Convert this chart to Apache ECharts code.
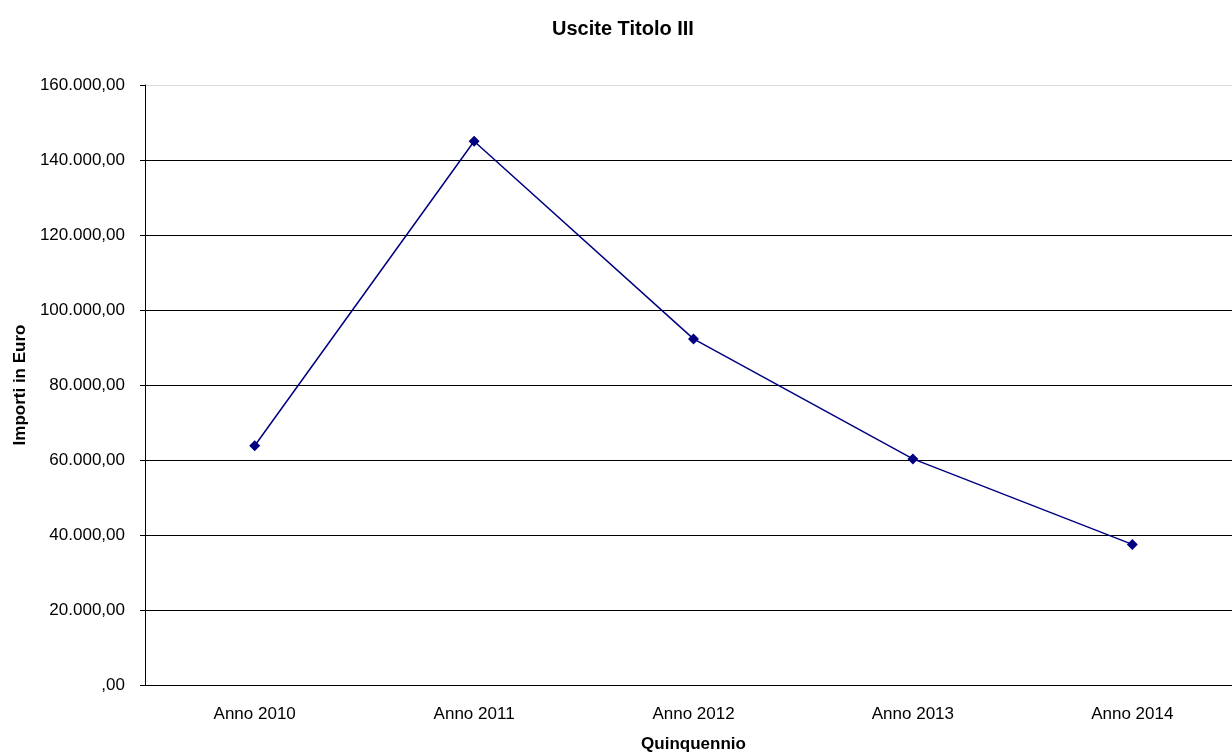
<!DOCTYPE html>
<html>
<head>
<meta charset="utf-8">
<script src="https://cdn.jsdelivr.net/npm/echarts@6/dist/echarts.min.js"></script>
<style>
  html, body { margin: 0; padding: 0; background: #fff; }
  #chart { width: 1232px; height: 753px; }
</style>
</head>
<body>
<div id="chart"></div>
<script>
// dati del grafico
var anni = ['Anno 2010', 'Anno 2011', 'Anno 2012', 'Anno 2013', 'Anno 2014'];
var uscite = [63800, 145000, 92300, 60300, 37500];
var yMin = 0, yMax = 160000, yStep = 20000;

var font = '"Liberation Sans", Arial, sans-serif';

// 160000 -> "160.000,00", 0 -> ",00"
function formatEuro(v) {
    if (v === 0) return ',00';
    return String(v).replace(/\B(?=(\d{3})+(?!\d))/g, '.') + ',00';
}

var myChart = echarts.init(document.getElementById('chart'));
var gridColors = ['#000', '#000', '#000', '#000', '#000', '#000', '#000', '#000', '#dcdcdc'];

var option = {
    animation: false,
    backgroundColor: '#fff',
    title: {
        text: 'Uscite Titolo III',
        left: 547,
        top: 14,
        textStyle: { fontFamily: font, fontSize: 20, fontWeight: 'bold', color: '#000' }
    },
    grid: { left: 145, top: 85, width: 1097, height: 600, outerBoundsMode: 'none', containLabel: false },
    xAxis: {
        type: 'category',
        data: anni,
        name: 'Quinquennio',
        nameLocation: 'middle',
        nameGap: 51,
        nameTextStyle: { fontFamily: font, fontSize: 17, fontWeight: 'bold', color: '#000' },
        axisLine: { lineStyle: { color: '#000', width: 1 } },
        axisTick: { length: 5, lineStyle: { color: '#000' } },
        axisLabel: { margin: 21, fontFamily: font, fontSize: 17, color: '#000' }
    },
    yAxis: {
        type: 'value',
        min: yMin,
        max: yMax,
        interval: yStep,
        name: 'Importi in Euro',
        nameLocation: 'middle',
        nameGap: 114,
        nameTextStyle: { fontFamily: font, fontSize: 17, fontWeight: 'bold', color: '#000' },
        axisLine: { show: true, lineStyle: { color: '#000', width: 1 } },
        axisTick: { show: true, length: 5, lineStyle: { color: '#000' } },
        axisLabel: { margin: 20, fontFamily: font, fontSize: 17, color: '#000', formatter: formatEuro },
        splitLine: { show: true, lineStyle: { color: gridColors, width: 1 } }
    },
    series: [{
        type: 'line',
        data: uscite,
        symbol: 'diamond',
        symbolSize: 11,
        lineStyle: { color: '#000080', width: 1.5 },
        itemStyle: { color: '#000080' }
    }]
};
myChart.setOption(option);
</script>
</body>
</html>
